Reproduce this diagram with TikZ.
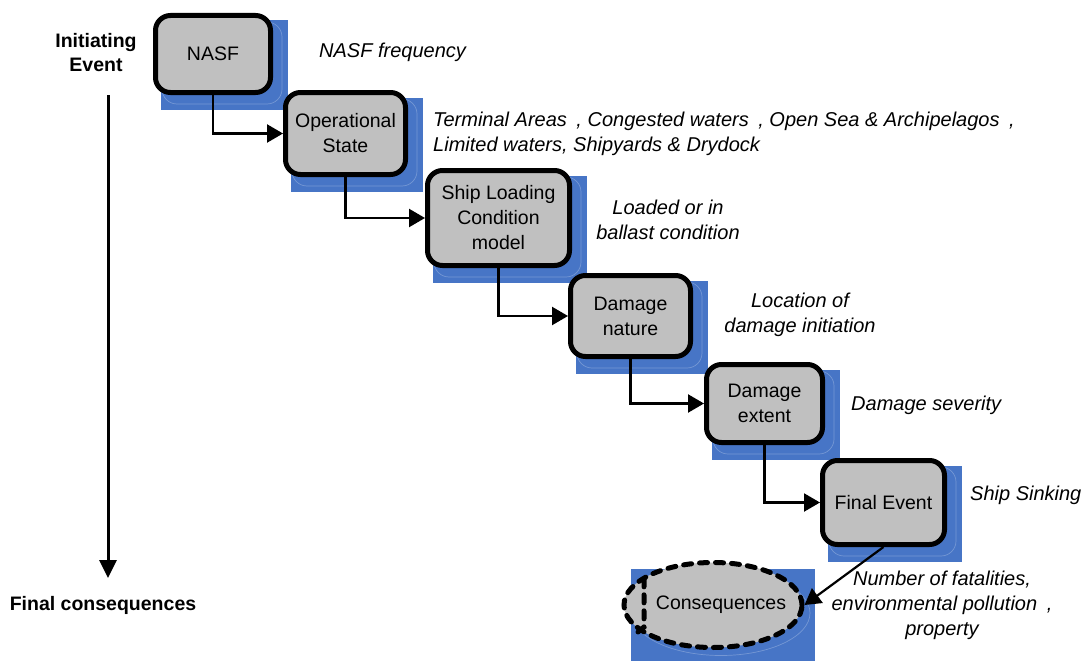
\documentclass[tikz,border=0pt]{standalone}
\usepackage{fontspec}
\setmainfont{Liberation Sans}
\usetikzlibrary{arrows.meta,shapes.geometric,backgrounds}
\definecolor{boxgray}{HTML}{C0C0C0}
\definecolor{shadowblue}{HTML}{4775C6}
\newcommand\stepshadow[1]{%
  \fill[shadowblue] ([shift={(7.5,7.5)}]#1.north west) rectangle ([shift={(14.5,14.5)}]#1.south east);
  \draw[white, opacity=.25, line width=.7pt, rounded corners=15pt]
    ([shift={(9,9)}]#1.north west) rectangle ([shift={(9,9)}]#1.south east);}
\newcommand\gap{\hspace{4pt} }
\tikzset{
  stepbox/.style={draw, line width=5pt, rounded corners=15pt, fill=boxgray,
    align=center, inner sep=0pt, font=\fontsize{19.5}{25}\selectfont},
  note/.style={font=\fontsize{20}{25}\selectfont\itshape, align=center, inner sep=0pt},
  heading/.style={font=\fontsize{19.5}{24}\selectfont\bfseries, align=center, inner sep=0pt},
  flow/.style={line width=2.2pt, -{Triangle[length=16pt,width=18pt]}},
  timeline/.style={line width=3pt, -{Triangle[length=18pt,width=17pt]}},
  dashedrim/.style={line width=5pt, dash pattern=on 8pt off 8pt, line cap=round},
}
\begin{document}
\begin{tikzpicture}[x=1pt,y=-1pt]
\useasboundingbox (0,0) rectangle (1084,661);

% side labels and time axis
\node[heading] (init) at (96,53) {Initiating\\Event};
\node[heading] (final) at (103,605) {Final consequences};
\coordinate (axtop) at (108,95);
\coordinate (axbot) at (108,578);
\draw[timeline] (axtop) -- (axbot);

% steps of the chain
\node[stepbox, minimum width=115pt, minimum height=77pt] (nasf) at (213,54) {NASF};
\node[stepbox, minimum width=120pt, minimum height=82pt] (op) at (345.5,133.5) {Operational\\State};
\node[stepbox, minimum width=142pt, minimum height=95pt] (load) at (498.5,218) {Ship Loading\\Condition\\model};
\node[stepbox, minimum width=120pt, minimum height=81pt] (dn) at (630.5,316) {Damage\\nature};
\node[stepbox, minimum width=116pt, minimum height=78pt] (de) at (764.5,403.5) {Damage\\extent};
\node[stepbox, minimum width=122pt, minimum height=84pt] (fe) at (883.5,502.5) {Final Event};

% consequences ellipse
\node[ellipse, draw, fill=boxgray, dashedrim, minimum width=178pt, minimum height=85pt,
      inner sep=0pt,
      label={[font=\fontsize{19.5}{25}\selectfont, xshift=8pt]center:Consequences}] (cons) at (713,605) {};
\draw[dashedrim] (638,632) -- (644,627) -- (644,578);

% blue shadows behind everything
\begin{scope}[on background layer]
  \stepshadow{nasf}
  \stepshadow{op}
  \stepshadow{load}
  \stepshadow{dn}
  \stepshadow{de}
  \stepshadow{fe}
  \fill[shadowblue] (631,569) rectangle (815,661);
  \draw[white, opacity=.25, line width=.7pt] ([shift={(8,8)}]cons.center) ellipse (89 and 42.5);
\end{scope}

% connectors
\draw[flow] (nasf.south) |- (op.west);
\draw[flow] (op.south) |- (load.west);
\draw[flow] (load.south) |- (dn.west);
\draw[flow] (dn.south) |- (de.west);
\draw[flow] (de.south) |- (fe.west);
\draw[flow] (fe.south) -- (cons.east);

% descriptions
\node[note, anchor=west] (t1) at (319,52) {NASF frequency};
\node[note, align=left, anchor=west] (t2) at (433,133.5) {Terminal Areas\gap, Congested waters\gap, Open Sea \& Archipelagos\gap,\\Limited waters, Shipyards \& Drydock};
\node[note] (t3) at (668,220) {Loaded or in\\ballast condition};
\node[note] (t4) at (800,315) {Location of\\damage initiation};
\node[note, anchor=west] (t5) at (851,405) {Damage severity};
\node[note, anchor=west] (t6) at (970,495) {Ship Sinking};
\node[note] (t7) at (942,605) {Number of fatalities,\\environmental pollution\gap,\\property};
\end{tikzpicture}
\end{document}
